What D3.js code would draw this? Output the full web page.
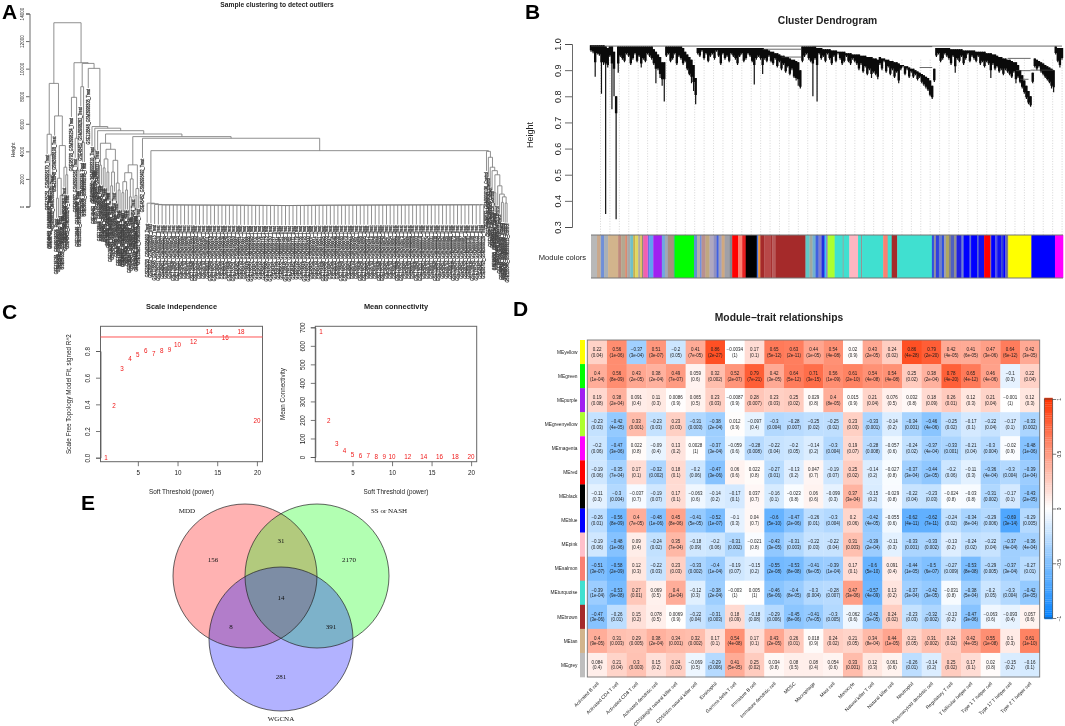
<!DOCTYPE html>
<html>
<head>
<meta charset="utf-8">
<script src="https://cdn.jsdelivr.net/npm/d3@7"></script>
<style>
  html, body { margin: 0; padding: 0; background: #fff; }
  svg { display: block; font-family: "Liberation Sans", Arial, sans-serif; filter: blur(0.3px); }
</style>
</head>
<body>
<svg id="fig" width="1065" height="726"></svg>
<script>
/* ---- A: sample dendrogram, nested [height, left, right], a number is a leaf and its slot width ---- */
var combHeights = [
  240, 200, 150, 125, 120, 120, 118, 115, 115, 112,
  110, 110, 108, 105, 105, 104, 102, 100, 100, 100,
  98, 98, 96, 95, 92, 90, 88, 85, 85, 82,
  80, 80, 78, 78, 75, 72, 70, 70, 72, 75,
  78, 80, 82, 85, 88, 90, 92, 92, 95, 95,
  98, 98, 100, 100, 100, 102, 102, 105, 105, 105,
  108, 108, 108, 110, 110, 110, 112, 112, 112, 115,
  115, 115, 115, 118, 118, 118, 118, 120, 120, 120,
  120, 122, 122, 122, 122, 125, 125, 125, 125, 130
];
var treeL1 = [8930, [5240, 1, [3740, [2300, 1, 1], 1]], [6570, 1, [4420, [2050, [600, 1, 1], [800, 1, 1]], [2850, 1, [2300, 1, 1]]]]];
var treeL2 = [7920, 3, [4950, 1, [2600, 1, 1]]];
var treeN3 = [8690, 1, [4650, 1, 1]];
var treeC4 = [4590, [3000, 1, 1], [4150, [3450, [2800, 1, 1], [2500, 1, 1]], [3350, [2500, [1500, 1, 1], 1], [1700, 1, [1200, 1, 1]]]]];
var treeC5 = [3020, [2450, [1800, [1000, 1, 1], [1200, 1, 1]], [2000, [700, 1, 1], 1]], [1300, [800, 1, 1], 1]];
var treeR = [4000, 1, [3570, 1, [2850, 1, [2600, 1, [2300, [1000, 1, 1], [1500, 1, [900, 1, [700, [300, 1, 1], [250, 1, 1]]]]]]]]];
var gseNames = ["GSE135251", "GSE48452", "GSE98793", "GSE89632", "GSE126848"];
var heightTicks = [0, 2000, 4000, 6000, 8000, 10000, 12000, 14000];

/* ---- B: gene dendrogram, branch top and tip height at each position ---- */
var geneTips = [
  .97, .965, .875, .96, .955, .81, .92, .35, .91, .95,
  .75, .8, .33, .89, .95, .94, .93, .96, .95, .92,
  .94, .96, .93, .95, .91, .94, .93, .96, .95, .94,
  .92, .85, .9, .87, .84, .78, .95, .96, .93, .94,
  .96, .92, .95, .94, .92, .93, .9, .88, .85, .82,
  .77, .96, .95, .97, .94, .96, .93, .95, .96, .94,
  .97, .95, .92, .96, .94, .95, .93, .96, .95, .94,
  .92, .95, .96, .93, .94, .96, .95, .93, .845, .94,
  .95, .94, .885, .94, .93, .95, .93, .92, .94, .91,
  .93, .9, .92, .89, .91, .88, .9, .87, .86, .84,
  .83, .93, .95, .96, .94, .93, .8, .94, .78, .96,
  .94, .95, .93, .96, .94, .92, .95, .93, .96, .94,
  .92, .93, .95, .93, .92, .94, .93, .92, .9, .92,
  .89, .91, .88, .9, .87, .89, .88, .865, .92, .9,
  .93, .89, .91, .88, .9, .87, .89, .85, .9, .91,
  .88, .9, .87, .89, .87, .88, .86, .87, .85, .84,
  .83, .82, .8, .79, .855, .95, .96, .93, .94, .96,
  .95, .94, .92, .95, .89, .94, .93, .95, .92, .94,
  .96, .93, .95, .94, .93, .95, .92, .93, .91, .93,
  .92, .87, .92, .9, .91, .89, .9, .88, .9, .89,
  .88, .87, .89, .85, .87, .85, .83, .81, .79, .77,
  .76, .85, .91, .9, .91, .89, .88, .87, .86, .85,
  .83, .815, .96, .93, .91, .94
];
var geneTops = [
  .995, .995, .995, .995, .995, .995, .995, .99, .985, .99,
  .99, .97, .8, .99, .99, .99, .99, .99, .99, .99,
  .99, .99, .99, .99, .99, .99, .99, .99, .99, .99,
  .98, .97, .96, .95, .93, .93, .99, .99, .99, .99,
  .99, .99, .99, .99, .985, .97, .96, .95, .94, .92,
  .87, .985, .985, .985, .985, .985, .985, .985, .985, .985,
  .985, .985, .985, .985, .985, .985, .985, .985, .985, .985,
  .985, .985, .985, .985, .985, .985, .985, .985, .985, .985,
  .985, .985, .985, .98, .98, .975, .97, .97, .965, .965,
  .96, .955, .955, .95, .95, .945, .94, .94, .935, .93,
  .9, .99, .99, .99, .99, .99, .99, .99, .985, .985,
  .985, .98, .98, .98, .98, .975, .975, .975, .97, .97,
  .97, .97, .965, .965, .965, .96, .96, .96, .96, .955,
  .955, .955, .95, .95, .95, .945, .945, .94, .95, .945,
  .945, .94, .94, .935, .935, .93, .93, .925, .92, .92,
  .915, .915, .91, .905, .905, .9, .895, .89, .885, .88,
  .875, .87, .86, .84, .905, .985, .985, .985, .985, .985,
  .985, .985, .98, .98, .98, .98, .98, .98, .975, .975,
  .975, .975, .975, .975, .97, .97, .97, .97, .97, .965,
  .965, .965, .96, .96, .955, .95, .95, .945, .945, .94,
  .94, .935, .93, .93, .92, .9, .88, .86, .84, .82,
  .8, .89, .945, .94, .935, .93, .925, .92, .915, .91,
  .905, .9, .99, .985, .985, .985
];
// horizontal joins of the big branches: position from, position to, height
var joinFrom = [0, 82, 91, 106, 157, 199, 203, 205, 210];
var joinTo = [225, 100.5, 100.5, 163, 163, 210, 210, 209, 221];
var joinHeight = [.992, .98, .95, .99, .91, .945, .898, .865, .9];

var moduleColors = [
  "#b8b8b8", "#c9a88c", "#b0b0b0", "#6f8fd8", "#a8b0b8", "#d2b48c", "#c08a7c", "#b4a890", "#d88a70", "#a8a8a8",
  "#70c0c8", "#c8b050", "#e0d860", "#b0a8a0", "#e0c060", "#707070", "#f060b0", "#e050d0", "#4060e0", "#60a0f0",
  "#a020f0", "#70a8e0", "#a0a8b8", "#a89080", "#30c870", "#00ff00", "#6090d0", "#b0b0b0", "#7090e0", "#b89090",
  "#c0a880", "#b0a8c0", "#9090c0", "#4060e0", "#a0a0c0", "#d0a880", "#a0a0a8", "#808890", "#ff0000", "#fa8072",
  "#e82020", "#000000", "#4070e0", "#f09030", "#a52a2a", "#b84848", "#a83030", "#b85858", "#a52a2a", "#60c8c8",
  "#a0a8a0", "#70b0d0", "#4060e0", "#8080c8", "#2030e0", "#40c0f0", "#8080d0", "#adff2f", "#40e0d0", "#90a8a0",
  "#40e0d0", "#ffb6c1", "#40e0d0", "#909090", "#40e0d0", "#fa8072", "#40e0d0", "#a52a2a", "#40e0d0", "#3050e0",
  "#9090a0", "#3040e0", "#7080c8", "#3050e0", "#a0a0b0", "#b0a860", "#808090", "#5060c0", "#909090", "#2020e0",
  "#7080d0", "#0000ff", "#6070d0", "#0000ff", "#5060d0", "#1010f0", "#ff0000", "#a06070", "#0000ff", "#5050e0",
  "#1010f0", "#3040d0", "#0000ff", "#6060c0", "#808080", "#ffff00", "#0000ff", "#ff00ff"
];
var moduleWidths = [
  6, 3, 1, 3, 4, 10, 3, 4, 2, 3,
  3, 2, 3, 2, 2, 1, 4, 1, 1, 4,
  8.5, 3, 3, 6, 1, 19, 3, 3, 1.5, 4,
  4, 4, 3, 2, 3, 3, 5, 2.5, 6, 4,
  3.5, 11, 1.5, 2, 4, 6, 2, 3, 30, 4,
  3, 3, 3, 3, 3, 1.5, 1.5, 7, 8, 1,
  5.6, 8.7, 3, 1, 21, 4.5, 4, 5.5, 34.5, 2,
  2, 3, 3, 2, 2, 3, 2, 3, 2.5, 5,
  2, 6, 1.5, 6, 1.5, 5.5, 6, 1, 4, 2,
  4, 2, 2, 1.5, 1.5, 23, 23.5, 8
];

/* ---- C: soft threshold ---- */
var softPowers = [1, 2, 3, 4, 5, 6, 7, 8, 9, 10, 12, 14, 16, 18, 20];
var scaleFitR2 = [0, .39, .67, .745, .77, .80, .78, .80, .81, .85, .87, .945, .90, .945, .28];
var meanConnect = [676, 196, 72, 31, 14, 7, 5, 2, 1, 1, .5, .5, .5, .5, .5];
var fitCutoff = .905;

/* ---- D: module-trait table ---- */
var moduleNames = ["MEyellow", "MEgreen", "MEpurple", "MEgreenyellow", "MEmagenta", "MEred", "MEblack", "MEblue", "MEpink", "MEsalmon", "MEturquoise", "MEbrown", "MEtan", "MEgrey"];
var moduleBarColors = ["#ffff00", "#00ff00", "#a020f0", "#adff2f", "#ff00ff", "#ff0000", "#000000", "#0000ff", "#ffc0cb", "#fa8072", "#40e0d0", "#a52a2a", "#d2b48c", "#bebebe"];
var traitNames = ["Activated B cell", "Activated CD4 T cell", "Activated CD8 T cell", "Activated dendritic cell", "CD56bright natural killer cell", "CD56dim natural killer cell", "Eosinophil", "Gamma delta T cell", "Immature  B cell", "Immature dendritic cell", "MDSC", "Macrophage", "Mast cell", "Monocyte", "Natural killer T cell", "Natural killer cell", "Neutrophil", "Plasmacytoid dendritic cell", "Regulatory T cell", "T follicular helper cell", "Type 1 T helper cell", "Type 17 T helper cell", "Type 2 T helper cell"];
var corrValues = [
  [0.22, 0.56, -0.37, 0.51, -0.2, 0.41, 0.86, -0.0034, 0.17, 0.65, 0.63, 0.44, 0.54, 0.02, 0.43, 0.24, 0.86, 0.79, 0.42, 0.41, 0.47, 0.64, 0.42],
  [0.4, 0.56, 0.43, 0.38, 0.49, 0.059, 0.32, 0.52, 0.79, 0.42, 0.64, 0.71, 0.56, 0.61, 0.54, 0.54, 0.25, 0.38, 0.78, 0.65, 0.46, -0.1, 0.22],
  [0.19, 0.38, 0.091, 0.11, 0.0086, 0.065, 0.23, -0.0087, 0.28, 0.23, 0.25, 0.029, 0.4, 0.015, 0.21, 0.076, 0.032, 0.18, 0.26, 0.12, 0.21, -0.001, 0.12],
  [-0.23, -0.42, 0.33, -0.23, 0.23, -0.31, -0.38, 0.012, -0.097, -0.3, -0.28, -0.25, -0.25, 0.23, -0.33, -0.14, -0.34, -0.46, -0.25, -0.17, -0.22, -0.17, -0.33],
  [-0.2, -0.47, 0.022, -0.09, 0.13, 0.0028, -0.37, -0.059, -0.28, -0.22, -0.2, -0.14, -0.3, 0.19, -0.28, -0.057, -0.24, -0.37, -0.33, -0.21, -0.3, -0.02, -0.48],
  [-0.19, -0.35, 0.17, -0.32, 0.18, -0.2, -0.47, 0.06, 0.022, -0.27, -0.13, 0.047, -0.19, 0.25, -0.14, -0.027, -0.37, -0.44, -0.2, -0.11, -0.36, -0.3, -0.39],
  [-0.11, -0.3, -0.037, -0.19, 0.17, -0.063, -0.14, -0.17, 0.037, -0.16, -0.023, 0.06, -0.099, 0.37, -0.15, -0.029, -0.22, -0.23, -0.024, -0.03, -0.31, -0.17, -0.43],
  [-0.26, -0.56, 0.4, -0.48, 0.45, -0.41, -0.52, -0.1, 0.04, -0.6, -0.47, -0.26, -0.3, 0.2, -0.42, -0.055, -0.62, -0.62, -0.24, -0.34, -0.29, -0.69, -0.29],
  [-0.19, -0.48, 0.09, -0.24, 0.35, -0.18, -0.2, -0.31, -0.021, -0.43, -0.31, -0.22, -0.22, 0.31, -0.39, -0.11, -0.33, -0.33, -0.13, -0.24, -0.22, -0.37, -0.36],
  [-0.51, -0.58, 0.12, -0.22, 0.23, -0.33, -0.4, -0.19, -0.15, -0.55, -0.53, -0.41, -0.39, 0.17, -0.6, 0.091, -0.44, -0.5, -0.27, -0.53, -0.29, -0.37, -0.27],
  [-0.39, -0.53, 0.27, 0.069, 0.4, -0.12, -0.38, -0.003, 0.005, -0.46, -0.4, -0.3, -0.28, 0.47, -0.57, 0.13, -0.37, -0.42, -0.031, -0.38, -0.2, -0.3, -0.42],
  [-0.47, -0.26, 0.15, 0.078, 0.0069, -0.22, -0.31, 0.18, -0.18, -0.29, -0.45, -0.41, -0.3, -0.062, -0.42, 0.24, -0.23, -0.32, -0.13, -0.47, -0.063, -0.093, 0.057],
  [0.4, 0.31, 0.29, 0.38, 0.34, 0.32, 0.17, 0.54, 0.17, 0.43, 0.26, 0.018, 0.24, 0.21, 0.34, 0.44, 0.21, 0.31, 0.24, 0.42, 0.55, 0.1, 0.61],
  [0.084, 0.21, 0.3, 0.15, 0.24, -0.069, -0.29, 0.41, 0.25, 0.034, 0.08, 0.08, 0.054, 0.33, 0.12, 0.061, -0.26, -0.14, 0.25, 0.17, 0.02, -0.15, -0.16]
];
var pValues = [
  ["0.04", "1e-06", "3e-04", "3e-07", "0.05", "7e-05", "2e-27", "1", "0.1", "5e-12", "2e-11", "1e-05", "4e-08", "0.9", "2e-05", "0.02", "4e-28", "2e-20", "4e-05", "6e-05", "3e-06", "6e-12", "3e-05"],
  ["1e-04", "8e-09", "2e-05", "2e-04", "7e-07", "0.6", "0.002", "2e-07", "7e-21", "3e-05", "5e-12", "3e-15", "1e-09", "2e-10", "4e-08", "4e-08", "0.02", "2e-04", "4e-20", "4e-12", "4e-06", "0.3", "0.04"],
  ["0.08", "2e-04", "0.4", "0.3", "0.9", "0.5", "0.03", "0.9", "0.007", "0.03", "0.02", "0.8", "8e-05", "0.9", "0.04", "0.5", "0.8", "0.09", "0.01", "0.3", "0.04", "1", "0.3"],
  ["0.03", "4e-05", "0.001", "0.03", "0.03", "0.003", "2e-04", "0.9", "0.4", "0.004", "0.007", "0.02", "0.02", "0.03", "0.001", "0.2", "0.001", "4e-06", "0.02", "0.1", "0.04", "0.1", "0.002"],
  ["0.06", "3e-06", "0.8", "0.4", "0.2", "1", "3e-04", "0.6", "0.008", "0.04", "0.05", "0.2", "0.004", "0.07", "0.008", "0.6", "0.02", "4e-04", "0.001", "0.04", "0.004", "0.9", "1e-06"],
  ["0.06", "7e-04", "0.1", "0.002", "0.1", "0.06", "3e-06", "0.6", "0.8", "0.01", "0.2", "0.7", "0.07", "0.02", "0.2", "0.8", "3e-04", "1e-05", "0.06", "0.3", "4e-04", "0.004", "1e-04"],
  ["0.3", "0.004", "0.7", "0.07", "0.1", "0.6", "0.2", "0.1", "0.7", "0.1", "0.8", "0.6", "0.3", "3e-04", "0.2", "0.8", "0.04", "0.03", "0.8", "0.8", "0.002", "0.1", "2e-05"],
  ["0.01", "8e-09", "7e-05", "1e-06", "8e-06", "5e-05", "1e-07", "0.3", "0.7", "5e-10", "2e-06", "0.01", "0.004", "0.06", "4e-05", "0.6", "4e-11", "7e-11", "0.02", "8e-04", "0.006", "3e-14", "0.005"],
  ["0.06", "1e-06", "0.4", "0.02", "7e-04", "0.09", "0.06", "0.002", "0.8", "3e-05", "0.003", "0.03", "0.04", "0.003", "2e-04", "0.3", "0.001", "0.002", "0.2", "0.02", "0.04", "4e-04", "4e-04"],
  ["3e-07", "2e-09", "0.3", "0.03", "0.03", "0.002", "1e-04", "0.07", "0.2", "2e-08", "8e-08", "6e-05", "1e-04", "0.1", "5e-10", "0.4", "1e-05", "6e-07", "0.009", "8e-08", "0.005", "3e-04", "0.01"],
  ["1e-04", "9e-08", "0.01", "0.5", "1e-04", "0.3", "2e-04", "1", "1", "6e-06", "8e-05", "0.004", "0.007", "3e-06", "4e-09", "0.2", "3e-04", "3e-05", "0.8", "5e-04", "0.05", "0.004", "3e-05"],
  ["3e-06", "0.01", "0.2", "0.5", "0.9", "0.04", "0.003", "0.09", "0.08", "0.006", "8e-06", "7e-05", "0.005", "0.6", "3e-05", "0.02", "0.03", "0.002", "0.2", "3e-06", "0.6", "0.4", "0.6"],
  ["9e-05", "0.003", "0.005", "2e-04", "0.001", "0.002", "0.1", "4e-08", "0.1", "2e-05", "0.01", "0.9", "0.02", "0.05", "8e-04", "1e-05", "0.05", "0.002", "0.02", "4e-05", "1e-08", "0.3", "1e-10"],
  ["0.4", "0.04", "0.003", "0.2", "0.02", "0.5", "0.006", "5e-05", "0.02", "0.8", "0.5", "0.4", "0.6", "0.001", "0.3", "0.6", "0.01", "0.2", "0.02", "0.1", "0.8", "0.2", "0.1"]
];
var legendTicks = [-1, -0.5, 0, 0.5, 1];

/* ---- E: venn ---- */
var vennNames = ["MDD", "SS or NASH", "WGCNA"];
var vennFills = ["red", "green", "blue"];
var onlyMdd = 156, onlySs = 2170, onlyWgcna = 281, mddSs = 31, mddWgcna = 8, ssWgcna = 391, allThree = 14;

/* ---------------------------------------------------------------- */
var svg = d3.select("#fig");
var axisColor = "#444";
var ink = "#222";

function label(g, x, y, s, size, opts) {
  opts = opts || {};
  var t = g.append("text")
    .attr("x", x).attr("y", y)
    .attr("font-size", size)
    .attr("text-anchor", opts.anchor || "middle")
    .attr("fill", opts.fill || ink)
    .text(s);
  if (opts.bold) t.attr("font-weight", "bold");
  if (opts.serif) t.attr("font-family", "'Liberation Serif', serif");
  if (opts.rotate != null) t.attr("transform", "rotate(" + opts.rotate + " " + x + " " + y + ")");
  return t;
}

// panel letters
[["A", 2, 18.5], ["B", 525, 18.5], ["C", 2, 319], ["D", 513, 316], ["E", 81, 510]].forEach(function (d) {
  label(svg, d[1], d[2], d[0], 21, { anchor: "start", bold: true, fill: "#000" });
});

// R style value axis, text turned along the axis
function rotatedLeftAxis(g, scale, ticks, size, tickLen, fmt) {
  var ax = d3.axisLeft(scale).tickValues(ticks).tickSizeOuter(0).tickSize(tickLen);
  if (fmt) ax.tickFormat(fmt); else ax.tickFormat(d3.format("d"));
  g.call(ax);
  g.selectAll("path,line").attr("stroke", axisColor).attr("stroke-width", 0.8);
  g.selectAll("text")
    .attr("font-size", size).attr("font-family", "'Liberation Sans'").attr("fill", ink)
    .attr("text-anchor", "middle").attr("dy", 0).attr("x", 0)
    .attr("transform", function () { return "translate(" + (-tickLen - size * 0.5) + ",0) rotate(-90)"; });
}

/* ---- A ---- */
(function () {
  var gA = svg.append("g");
  var yA = d3.scaleLinear().domain([0, 14000]).range([206.5, 13.5]);
  label(gA, 277, 7, "Sample clustering to detect outliers", 6.7, { bold: true });
  label(gA, 14.5, 150, "Height", 5.2, { rotate: -90 });
  rotatedLeftAxis(gA.append("g").attr("transform", "translate(29.5,0)"), yA, heightTicks, 4.6, 3.5);

  var hang = 1420;
  var comb = [combHeights[combHeights.length - 1], 2, 2];
  for (var i = combHeights.length - 2; i >= 0; i--) comb = [combHeights[i], 2, comb];

  var root = [13330, treeL1, [10430, treeL2, [10380, treeN3, [10020, 3, [5800, 1, [5680, [4100, 1, 1],
    [5500, 1, [5260, treeC4, [5070, treeC5, [4950, 3, [4050, comb, treeR]]]]]]]]]]];

  var slotTotal = 0;
  (function count(n) { if (typeof n === "number") slotTotal += n; else { count(n[1]); count(n[2]); } })(root);
  var xA = d3.scaleLinear().domain([0, slotTotal]).range([46.2, 508]);

  var cursor = 0, links = [], leaves = [];
  function place(n, parentH) {
    if (typeof n === "number") {
      var lx = cursor + n / 2;
      cursor += n;
      links.push({ x: lx, y0: parentH, y1: parentH - hang });
      leaves.push({ x: lx, h: parentH - hang });
      return lx;
    }
    var a = place(n[1], n[0]), b = place(n[2], n[0]), mid = (a + b) / 2;
    links.push({ x0: a, x1: b, h: n[0] });
    if (parentH != null) links.push({ x: mid, y0: parentH, y1: n[0] });
    return mid;
  }
  place(root, null);

  var path = d3.path();
  links.forEach(function (l) {
    if (l.x0 != null) { path.moveTo(xA(l.x0), yA(l.h)); path.lineTo(xA(l.x1), yA(l.h)); }
    else { path.moveTo(xA(l.x), yA(l.y0)); path.lineTo(xA(l.x), yA(l.y1)); }
  });
  gA.append("path").attr("d", path.toString()).attr("fill", "none").attr("stroke", "#7c7c7c").attr("stroke-width", 0.85);

  // wide in the cross direction so neighbouring labels close up into a block
  gA.selectAll("text.leaf").data(leaves).enter().append("text")
    .attr("class", "leaf")
    .attr("font-size", 3.7)
    .attr("fill", "#333")
    .attr("stroke", "#444")
    .attr("stroke-width", 0.25)
    .attr("text-anchor", "end")
    .attr("transform", function (d) { return "translate(" + (xA(d.x) + 1.6) + "," + (yA(d.h) + 1) + ") rotate(-90) scale(1,1.3)"; })
    .text(function (d, i) {
      var group = i >= leaves.length - 12 ? "Control" : "Treat";
      return gseNames[i % gseNames.length] + "_GSM" + (3998170 + i * 7) + "_" + group;
    });
})();

/* ---- B ---- */
(function () {
  var gB = svg.append("g");
  var xB = d3.scaleLinear().domain([0, geneTips.length - 1]).range([591, 1062]);
  var yB = d3.scaleLinear().domain([0.3, 1]).range([227, 44]);
  label(gB, 827.5, 24, "Cluster Dendrogram", 10.3, { bold: true });
  label(gB, 532.5, 135, "Height", 9, { rotate: -90 });
  var ax = gB.append("g").attr("transform", "translate(572,0)");
  rotatedLeftAxis(ax, yB, [.3, .4, .5, .6, .7, .8, .9, 1], 9, 7, d3.format(".1f"));

  // dotted guide lines
  gB.selectAll("line.guide").data(d3.range(0, 50)).enter().append("line")
    .attr("x1", function (d) { return 600.5 + d * 9.42; })
    .attr("x2", function (d) { return 600.5 + d * 9.42; })
    .attr("y1", yB(0.94)).attr("y2", 235)
    .attr("stroke", "#c4c4c4").attr("stroke-width", 0.7).attr("stroke-dasharray", "1 1.6");

  // the dense body follows each tip, so its underside stays jagged
  var thick = d3.path(), thin = d3.path();
  geneTips.forEach(function (tip, i) {
    var top = geneTops[i], x = xB(i);
    thin.moveTo(x, yB(top)); thin.lineTo(x, yB(tip));
    thick.moveTo(x, yB(top)); thick.lineTo(x, yB(Math.max(tip + 0.006, top - 0.065)));
  });
  gB.append("path").attr("d", thin.toString()).attr("fill", "none").attr("stroke", "#111").attr("stroke-width", 1.2);
  gB.append("path").attr("d", thick.toString()).attr("fill", "none").attr("stroke", "#0a0a0a").attr("stroke-width", 2.4);

  gB.selectAll("line.join").data(joinFrom).enter().append("line")
    .attr("x1", function (d) { return xB(d); })
    .attr("x2", function (d, i) { return xB(joinTo[i]); })
    .attr("y1", function (d, i) { return yB(joinHeight[i]); })
    .attr("y2", function (d, i) { return yB(joinHeight[i]); })
    .attr("stroke", "#444").attr("stroke-width", 0.8);

  // module colour strip
  label(gB, 586, 259.5, "Module colors", 7.6, { anchor: "end" });
  var sum = d3.sum(moduleWidths), acc = 0;
  var xStrip = d3.scaleLinear().domain([0, sum]).range([591, 1063]);
  var stops = moduleWidths.map(function (w) { var s = acc; acc += w; return s; });
  gB.selectAll("rect.mod").data(moduleWidths).enter().append("rect")
    .attr("x", function (d, i) { return xStrip(stops[i]); })
    .attr("width", function (d) { return xStrip(d) - xStrip(0) + 0.3; })
    .attr("y", 235).attr("height", 43)
    .attr("fill", function (d, i) { return moduleColors[i]; });
  [235, 278].forEach(function (y) {
    gB.append("line").attr("x1", 591).attr("x2", 1063).attr("y1", y).attr("y2", y).attr("stroke", "#777").attr("stroke-width", 1);
  });
})();

/* ---- C ---- */
function softPlot(left, right, title, yTitle, yScale, yTicks, values, yFmt) {
  var g = svg.append("g");
  var top = 326.3, bottom = 461.7;
  var cx = (left + right) / 2;
  var x = d3.scaleLinear().domain([1, 20]).range([left + 5.6, right - 5.6]);
  g.append("rect").attr("x", left).attr("y", top).attr("width", right - left).attr("height", bottom - top)
    .attr("fill", "none").attr("stroke", "#666").attr("stroke-width", 1);
  label(g, cx, 309, title, 7.4, { bold: true });
  label(g, cx, 494, "Soft Threshold (power)", 6.4);
  label(g, left - 30, 394, yTitle, 6.3, { rotate: -90 });

  var ax = g.append("g").attr("transform", "translate(" + left + ",0)");
  ax.call(d3.axisLeft(yScale).tickValues(yTicks).tickSizeOuter(0).tickSize(4.5).tickFormat(yFmt));
  ax.selectAll("path,line").attr("stroke", "#555").attr("stroke-width", 0.8);
  ax.selectAll("text").attr("font-size", 6.3).attr("font-family", "'Liberation Sans'").attr("fill", ink)
    .attr("text-anchor", "middle").attr("dy", 0).attr("x", 0)
    .attr("transform", "translate(-10.5,0) rotate(-90)");

  var bx = g.append("g").attr("transform", "translate(0," + bottom + ")");
  bx.call(d3.axisBottom(x).tickValues([5, 10, 15, 20]).tickSizeOuter(0).tickSize(4.5).tickFormat(d3.format("d")));
  bx.select(".domain").remove();
  bx.selectAll("line").attr("stroke", "#555").attr("stroke-width", 0.8);
  bx.selectAll("text").attr("font-size", 6.3).attr("font-family", "'Liberation Sans'").attr("fill", ink).attr("y", 9);

  g.selectAll("text.pw").data(softPowers).enter().append("text")
    .attr("class", "pw")
    .attr("x", function (d) { return x(d); })
    .attr("y", function (d, i) { return yScale(values[i]) + 2.2; })
    .attr("text-anchor", "middle").attr("font-size", 6.3).attr("fill", "#f01818")
    .text(function (d) { return d; });
  return { g: g, x: x };
}
(function () {
  var y1 = d3.scaleLinear().domain([0, .8]).range([457.7, 351]);
  var p1 = softPlot(100.5, 262.5, "Scale independence", "Scale Free Topology Model Fit, signed R^2", y1, [0, .2, .4, .6, .8], scaleFitR2, d3.format(".1f"));
  p1.g.append("line").attr("x1", 100.5).attr("x2", 262.5).attr("y1", y1(fitCutoff)).attr("y2", y1(fitCutoff))
    .attr("stroke", "#f55").attr("stroke-width", 1);
  var y2 = d3.scaleLinear().domain([0, 700]).range([457, 327.3]);
  softPlot(315.3, 476.7, "Mean connectivity", "Mean Connectivity", y2, [0, 100, 200, 300, 400, 500, 600, 700], meanConnect, d3.format("d"));
})();

/* ---- D ---- */
(function () {
  var gD = svg.append("g");
  var xD = d3.scaleBand().domain(traitNames).range([587.3, 1039.7]);
  var yD = d3.scaleBand().domain(moduleNames).range([340, 677]);
  var color = d3.scaleLinear().domain([-1, 0, 1]).range(["#0080ff", "#ffffff", "#ff3300"]);

  label(gD, 779, 321, "Module\u2212trait relationships", 10.3, { bold: true });

  var cells = [];
  moduleNames.forEach(function (m, r) {
    traitNames.forEach(function (t, c) {
      cells.push({ m: m, t: t, v: corrValues[r][c], p: pValues[r][c] });
    });
  });
  gD.selectAll("rect.cell").data(cells).enter().append("rect")
    .attr("class", "cell")
    .attr("x", function (d) { return xD(d.t); }).attr("y", function (d) { return yD(d.m); })
    .attr("width", xD.bandwidth() + 0.3).attr("height", yD.bandwidth() + 0.3)
    .attr("fill", function (d) { return color(d.v); });
  gD.append("rect").attr("x", 587.3).attr("y", 340).attr("width", 1039.7 - 587.3).attr("height", 337)
    .attr("fill", "none").attr("stroke", "#777").attr("stroke-width", 0.9);

  var cellText = gD.selectAll("g.cellText").data(cells).enter().append("g")
    .attr("transform", function (d) { return "translate(" + (xD(d.t) + xD.bandwidth() / 2) + "," + (yD(d.m) + yD.bandwidth() / 2) + ")"; })
    .attr("font-size", 4.5).attr("text-anchor", "middle").attr("fill", "#1c1c1c");
  cellText.append("text").attr("y", -1.2).text(function (d) { return String(d.v).replace("-", "\u2212"); });
  cellText.append("text").attr("y", 4.5).text(function (d) { return "(" + d.p + ")"; });

  // colour key per module
  gD.selectAll("rect.key").data(moduleNames).enter().append("rect")
    .attr("x", 580).attr("width", 5)
    .attr("y", function (d) { return yD(d); }).attr("height", yD.bandwidth() + 0.3)
    .attr("fill", function (d, i) { return moduleBarColors[i]; });
  gD.selectAll("text.mod").data(moduleNames).enter().append("text")
    .attr("x", 577.5).attr("y", function (d) { return yD(d) + yD.bandwidth() / 2 + 1.7; })
    .attr("text-anchor", "end").attr("font-size", 4.8).attr("fill", ink)
    .text(function (d) { return d; });
  gD.selectAll("text.trait").data(traitNames).enter().append("text")
    .attr("text-anchor", "end").attr("font-size", 4.8).attr("fill", ink)
    .attr("transform", function (d) { return "translate(" + (xD(d) + xD.bandwidth() / 2 + 2) + ",684) rotate(-45)"; })
    .text(function (d) { return d; });

  // legend
  var yK = d3.scaleLinear().domain([-1, 1]).range([618, 399]);
  var steps = d3.range(-1, 1.0001, 0.02);
  gD.selectAll("rect.leg").data(steps).enter().append("rect")
    .attr("x", 1044.3).attr("width", 8.4)
    .attr("y", function (d) { return yK(d) - 1.2; }).attr("height", 2.4)
    .attr("fill", function (d) { return color(d); });
  gD.append("rect").attr("x", 1044.3).attr("y", 399).attr("width", 8.4).attr("height", 219)
    .attr("fill", "none").attr("stroke", "#444").attr("stroke-width", 0.7);
  var ax = gD.append("g").attr("transform", "translate(1052.7,0)");
  ax.call(d3.axisRight(yK).tickValues(legendTicks).tickSizeOuter(0).tickSize(3.5).tickFormat(function (d) { return String(d).replace("-", "\u2212"); }));
  ax.select(".domain").remove();
  ax.selectAll("line").attr("stroke", "#444").attr("stroke-width", 0.7);
  ax.selectAll("text").attr("font-size", 4.8).attr("font-family", "'Liberation Sans'").attr("fill", ink)
    .attr("text-anchor", "middle").attr("dy", 0).attr("x", 0)
    .attr("transform", "translate(8,0) rotate(-90)");
})();

/* ---- E ---- */
(function () {
  var gE = svg.append("g");
  var sx = d3.scaleLinear().domain([-1, 1]).range([209, 353]);
  var sy = d3.scaleLinear().domain([0, 1]).range([576, 648]);
  var r = sx(1) - sx(0);
  var centres = [[-0.5, 0], [0.5, 0], [0, 0.875]];
  gE.selectAll("circle.fill").data(vennFills).enter().append("circle")
    .attr("cx", function (d, i) { return sx(centres[i][0]); })
    .attr("cy", function (d, i) { return sy(centres[i][1]); })
    .attr("r", r).attr("fill", function (d) { return d === "green" ? "#00ff00" : d === "blue" ? "#0000ff" : "#ff0000"; }).attr("fill-opacity", 0.3);
  gE.selectAll("circle.line").data(vennFills).enter().append("circle")
    .attr("cx", function (d, i) { return sx(centres[i][0]); })
    .attr("cy", function (d, i) { return sy(centres[i][1]); })
    .attr("r", r).attr("fill", "none").attr("stroke", "#222").attr("stroke-width", 0.7);

  var o = { serif: true, fill: "#111" };
  label(gE, 187, 512.5, vennNames[0], 7, o);
  label(gE, 389, 512.5, vennNames[1], 7, o);
  label(gE, 281, 720.5, vennNames[2], 7, o);
  label(gE, 213, 561.5, onlyMdd, 7, o);
  label(gE, 349, 561.5, onlySs, 7, o);
  label(gE, 281, 678.5, onlyWgcna, 7, o);
  label(gE, 281, 542.5, mddSs, 7, o);
  label(gE, 231, 629, mddWgcna, 7, o);
  label(gE, 331, 629, ssWgcna, 7, o);
  label(gE, 281, 599.5, allThree, 7, o);
})();
</script>
</body>
</html>
